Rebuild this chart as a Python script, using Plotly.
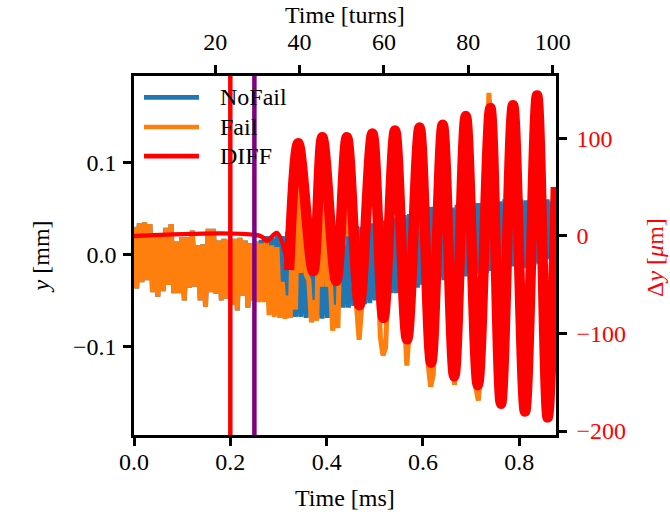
import numpy as np
import plotly.graph_objects as go

# BPM signal sampling (ms)
dt_ms = 0.0055
n_samples = 160
t_ms = np.arange(n_samples) * dt_ms

# one machine turn in ms and the time of turn 0 (for the top axis)
turn_ms = 0.008764
turn0_ms = -0.0068
x_range_ms = [0, 0.8763]

# before the failure both runs coincide (mm), samples 0..46
shared_pre = [
    0.030, -0.037, 0.034, -0.030, 0.035, -0.028, 0.033, -0.041, 0.023, -0.046,
    0.023, -0.040, 0.029, -0.033, 0.033, -0.042, 0.014, -0.042, 0.019, -0.050,
    0.019, -0.036, 0.026, -0.035, 0.010, -0.050, 0.011, -0.057, 0.028, -0.041,
    0.028, -0.043, 0.015, -0.050, 0.017, -0.048, 0.016, -0.055, 0.017, -0.061,
    0.018, -0.045, 0.015, -0.058, 0.012, -0.050, 0.014,
]

# samples 47..159
nofail_post = [
    -0.050, 0.016, -0.048, 0.020, -0.055, 0.018, -0.060, 0.022, -0.066, 0.020,
    -0.068, 0.025, -0.069, 0.022, -0.068, 0.025, -0.068, 0.028, -0.069, 0.024,
    -0.066, 0.027, -0.070, 0.028, -0.070, 0.026, -0.069, 0.030, -0.064, 0.028,
    -0.060, 0.030, -0.058, 0.027, -0.058, 0.030, -0.056, 0.031, -0.055, 0.030,
    -0.054, 0.032, -0.053, 0.034, -0.050, 0.036, -0.047, 0.037, -0.044, 0.036,
    -0.042, 0.040, -0.042, 0.042, -0.040, 0.043, -0.038, 0.044, -0.037, 0.047,
    -0.036, 0.048, -0.033, 0.052, -0.031, 0.052, -0.029, 0.050, -0.028, 0.049,
    -0.028, 0.050, -0.026, 0.051, -0.025, 0.054, -0.024, 0.055, -0.024, 0.057,
    -0.022, 0.057, -0.021, 0.056, -0.020, 0.055, -0.020, 0.056, -0.018, 0.056,
    -0.016, 0.058, -0.014, 0.060, -0.013, 0.059, -0.013, 0.060, -0.014, 0.060,
    -0.015, 0.059, -0.015, 0.060, -0.012, 0.060, -0.010, 0.059, -0.008, 0.060,
    -0.005, 0.058, -0.003,
]

fail_post = [
    -0.052, 0.012, -0.052, 0.014, -0.066, 0.010, -0.068, 0.008, -0.069, -0.030,
    -0.070, -0.045, -0.069, 0.050, -0.060, 0.120, -0.020, 0.090, -0.022, -0.028,
    -0.074, -0.050, -0.072, 0.080, -0.035, 0.112, -0.035, -0.020, -0.083, -0.055,
    -0.080, 0.050, 0.010, 0.128, 0.020, 0.070, -0.030, -0.056, -0.093, -0.056,
    -0.019, 0.061, 0.098, 0.132, 0.080, 0.011, -0.090, -0.110, -0.101, -0.023,
    0.035, 0.113, 0.122, 0.102, 0.001, -0.069, -0.121, -0.080, -0.035, 0.055,
    0.100, 0.138, 0.080, -0.003, -0.118, -0.144, -0.131, -0.043, 0.028, 0.116,
    0.129, 0.104, -0.006, -0.085, -0.142, -0.084, -0.002, 0.112, 0.138, 0.123,
    0.028, -0.049, -0.144, -0.159, -0.125, 0.009, 0.110, 0.176, 0.128, 0.063,
    -0.050, -0.115, -0.163, -0.100, -0.006, 0.119, 0.150, 0.132, 0.032, -0.052,
    -0.152, -0.170, -0.134, 0.003, 0.108, 0.173, 0.105, -0.002, -0.140, -0.176,
    -0.157, -0.052, 0.038,
]

nofail_mm = shared_pre + nofail_post
fail_mm = shared_pre + fail_post

# DIFF = Fail - NoFail, read at its turning points (um)
diff_t_ms = [0.0, 0.262, 0.276, 0.2965, 0.322, 0.341, 0.372, 0.391, 0.420, 0.442,
             0.468, 0.495, 0.518, 0.542, 0.567, 0.593, 0.617, 0.641, 0.665, 0.689,
             0.714, 0.740, 0.762, 0.787, 0.812, 0.837, 0.859, 0.876]
diff_um = [0, 0, -5, 3, -35, 95, -36, 101, -46, 101,
           -71, 105, -84, 108, -106, 111, -130, 114, -144, 123,
           -153, 131, -172, 134, -180, 144, -186, 50]
i_osc = 4  # index of the first trough, where the oscillation starts

t_fail_ms = 0.2
t_detect_ms = 0.25

FONT = "Liberation Serif"
BLUE, ORANGE, RED, PURPLE = "#1f77b4", "#ff7f0e", "#ff0000", "#800080"

fig = go.Figure()
fig.add_trace(go.Scatter(x=t_ms, y=nofail_mm, name="NoFail", mode="lines",
                         line=dict(color=BLUE, width=5)))
fig.add_trace(go.Scatter(x=t_ms, y=fail_mm, name="Fail", mode="lines",
                         line=dict(color=ORANGE, width=5)))
fig.add_trace(go.Scatter(x=diff_t_ms[:i_osc + 1], y=diff_um[:i_osc + 1], name="DIFF",
                         mode="lines", line=dict(color=RED, width=4.5, shape="spline"),
                         yaxis="y2"))
fig.add_trace(go.Scatter(x=diff_t_ms[i_osc:], y=diff_um[i_osc:], name="DIFF",
                         mode="lines", line=dict(color=RED, width=10.5, shape="spline"),
                         yaxis="y2"))
# same NoFail samples against turns, invisible, so the top axis is drawn
fig.add_trace(go.Scatter(x=(t_ms - turn0_ms) / turn_ms, y=nofail_mm, xaxis="x2",
                         mode="lines", opacity=0, hoverinfo="skip", showlegend=False))

for xv, col in [(t_fail_ms, RED), (t_detect_ms, PURPLE)]:
    fig.add_shape(type="line", xref="x", yref="paper", x0=xv, x1=xv, y0=0, y1=1,
                  line=dict(color=col, width=4.5), layer="above")

# legend drawn by hand (long key lines as in the original)
legend_items = [("NoFail", BLUE), ("Fail", ORANGE), ("DIFF", RED)]
legend_y = [0.9407, 0.858, 0.777]
for (label, col), ly in zip(legend_items, legend_y):
    fig.add_shape(type="line", xref="paper", yref="paper", x0=0.0237, x1=0.154,
                  y0=ly, y1=ly, line=dict(color=col, width=4.7))
    fig.add_annotation(x=0.199, y=ly, xref="paper", yref="paper", text=label,
                       showarrow=False, xanchor="left", yanchor="middle",
                       font=dict(family=FONT, size=24, color="black"))

titles = [
    ("Time [ms]", 0.5, -0.1755, 0, "black"),
    ("Time [turns]", 0.5, 1.1713, 0, "black"),
    ("<i>y</i> [mm]", -0.221, 0.4967, -90, "black"),
    ("Δ<i>y</i> [<i>μ</i>m]", 1.233, 0.494, -90, RED),
]
for txt, ax, ay, ang, col in titles:
    fig.add_annotation(x=ax, y=ay, xref="paper", yref="paper", text=txt,
                       showarrow=False, textangle=ang, xanchor="center", yanchor="middle",
                       font=dict(family=FONT, size=24, color=col))

axis_common = dict(showline=True, linecolor="black", linewidth=2.5, ticks="outside",
                   ticklen=8, tickwidth=2.5, tickcolor="black", showgrid=False,
                   zeroline=False, tickfont=dict(family=FONT, size=24, color="black"))

fig.update_layout(
    width=670, height=512,
    margin=dict(l=134, r=114, t=76, b=77, pad=0),
    plot_bgcolor="white", paper_bgcolor="white",
    showlegend=False,
    font=dict(family=FONT, size=24, color="black"),
    xaxis=dict(range=x_range_ms, tickvals=[0, 0.2, 0.4, 0.6, 0.8], tickformat=".1f",
               ticklabelstandoff=-5, **axis_common),
    xaxis2=dict(range=[(x_range_ms[0] - turn0_ms) / turn_ms,
                       (x_range_ms[1] - turn0_ms) / turn_ms],
                tickvals=[20, 40, 60, 80, 100], overlaying="x", side="top",
                ticklabelstandoff=6, **axis_common),
    yaxis=dict(range=[-0.1966, 0.1944], tickvals=[-0.1, 0, 0.1], tickformat=".1f",
               ticklabelstandoff=2, **axis_common),
    yaxis2=dict(range=[-204.1, 163.9], tickvals=[-200, -100, 0, 100], overlaying="y",
                side="right", ticklabelstandoff=5,
                **{**axis_common, "tickfont": dict(family=FONT, size=24, color=RED)}),
)

# figure fills the whole window: drop the page's default body margin
fig.write_html("out.html",
               config={"displayModeBar": False},
               post_script="document.body.style.margin='0px';"
                           "document.body.style.overflow='hidden';")
